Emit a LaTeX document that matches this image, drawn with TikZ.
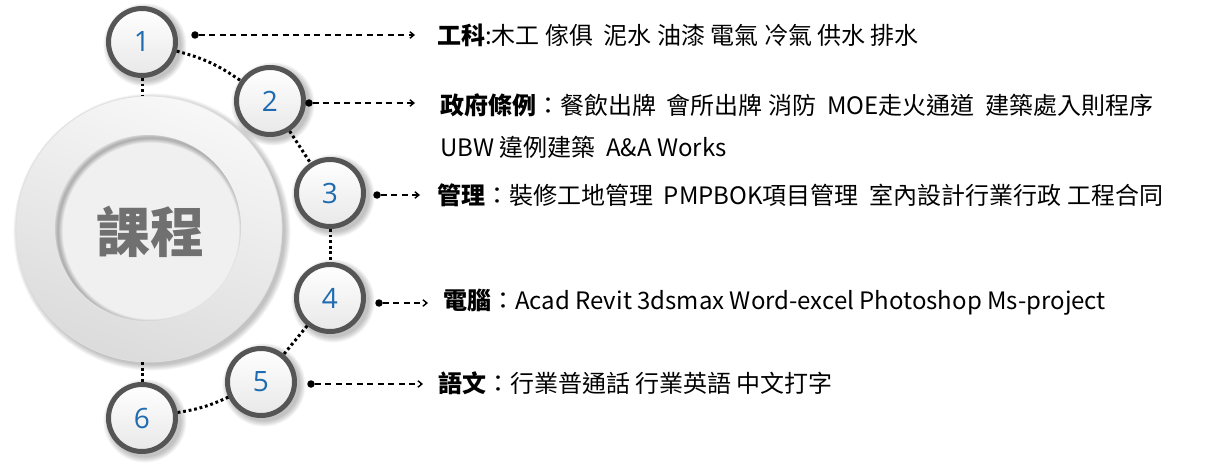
\documentclass[tikz,border=0pt]{standalone}
\usepackage{fontspec}
\setmainfont{Noto Sans CJK TC}
\newfontfamily\numfont{Open Sans}
\usetikzlibrary{arrows.meta}
\definecolor{numblue}{HTML}{1F6BB0}
\definecolor{ringgray}{HTML}{555555}
\definecolor{bigtext}{HTML}{707070}
\newcommand\softshadow[3]{%
  \foreach \k in {0,...,7}{\fill[black,opacity=0.03] (#1+3,#2+3) circle ({#3+\k*0.8});}}
\begin{document}
\begin{tikzpicture}[x=1pt,y=-1pt,
  numc/.style={circle,minimum size=67pt,inner sep=0pt,draw=ringgray,line width=5pt,
    top color=white,bottom color=black!9,text=numblue,
    font=\numfont\fontsize{28}{28}\selectfont},
  dotconn/.style={line width=3pt,dash pattern=on 2.8pt off 2.8pt,black},
  dashconn/.style={line width=1.5pt,dash pattern=on 6pt off 4.5pt,black,
    -{Straight Barb[length=4pt,width=6.5pt,line width=1.4pt]}},
  startdot/.style={circle,fill=black,inner sep=0pt,minimum size=7.5pt},
  lbl/.style={anchor=west,inner sep=0pt,align=left,
    font=\fontsize{24}{42}\selectfont,text=black}
]
\useasboundingbox (0,0) rectangle (1205,468);
\fill[white] (0,0) rectangle (1205,468);

% big circle
\softshadow{149}{229}{133}
\shade[top color=black!3,bottom color=black!14,shading angle=-20] (149,229) circle (133);
\draw[black!12,line width=0.8pt] (149,229) circle (133);
\fill[black!6] (148,228) circle (93);
\begin{scope}
  \clip (148,228) circle (93);
  \foreach \k in {1,...,8}{\draw[black,opacity=0.035,line width={\k*1.2pt}] (151,231) circle (93);}
\end{scope}
\node[circle,minimum size=266pt,inner sep=0pt] (big) at (149,229) {};
\node[text=bigtext,font=\fontsize{54}{54}\selectfont\bfseries] (title) at (150,232) {課程};

% small circles
\softshadow{142}{42}{36}
\softshadow{270}{101}{36}
\softshadow{330}{193}{36}
\softshadow{330}{298}{36}
\softshadow{261}{382}{36}
\softshadow{142}{418}{36}
\node[numc] (c1) at (142,42) {1};
\node[numc] (c2) at (270,101) {2};
\node[numc] (c3) at (330,193) {3};
\node[numc] (c4) at (330,298) {4};
\node[numc] (c5) at (261,382) {5};
\node[numc] (c6) at (142,418) {6};

% dotted connectors
\draw[dotconn] (c1.south) -- (c1.south |- big.north);
\draw[dotconn] (c6.north |- big.south) -- (c6.north);
\draw[dotconn] (c1) to[bend left=10] (c2);
\draw[dotconn] (c2) -- (c3);
\draw[dotconn] (c3) -- (c4);
\draw[dotconn] (c4) -- (c5);
\draw[dotconn] (c5) to[bend left=8] (c6);

% start dots
\node[startdot] (d1) at (195,35) {};
\node[startdot] (d2) at (309,103) {};
\node[startdot] (d3) at (377,195) {};
\node[startdot] (d4) at (379,303) {};
\node[startdot] (d5) at (311,384) {};
\coordinate (a1) at (415,35);
\coordinate (a2) at (415,103);
\coordinate (a3) at (420,195);
\coordinate (a4) at (428,303);
\coordinate (a5) at (423,384);
\draw[dashconn] (d1) -- (a1);
\draw[dashconn] (d2) -- (a2);
\draw[dashconn] (d3) -- (a3);
\draw[dashconn] (d4) -- (a4);
\draw[dashconn] (d5) -- (a5);

% labels
\node[lbl] (t1) at (437,35) {\textbf{工科}:木工 傢俱\ \ 泥水 油漆 電氣 冷氣 供水 排水};
\node[lbl] (t2) at (440,126) {\textbf{政府條例}：餐飲出牌\ \ 會所出牌 消防\ \ MOE走火通道\ \ 建築處入則程序\\UBW 違例建築\ \ A\&A Works};
\node[lbl] (t3) at (437,195) {\textbf{管理}：裝修工地管理\ \ PMPBOK項目管理\ \ 室內設計行業行政 工程合同};
\node[lbl] (t4) at (443,302) {\textbf{電腦}：Acad Revit 3dsmax Word-excel Photoshop Ms-project};
\node[lbl] (t5) at (438,383) {\textbf{語文}：行業普通話 行業英語 中文打字};
\end{tikzpicture}
\end{document}
